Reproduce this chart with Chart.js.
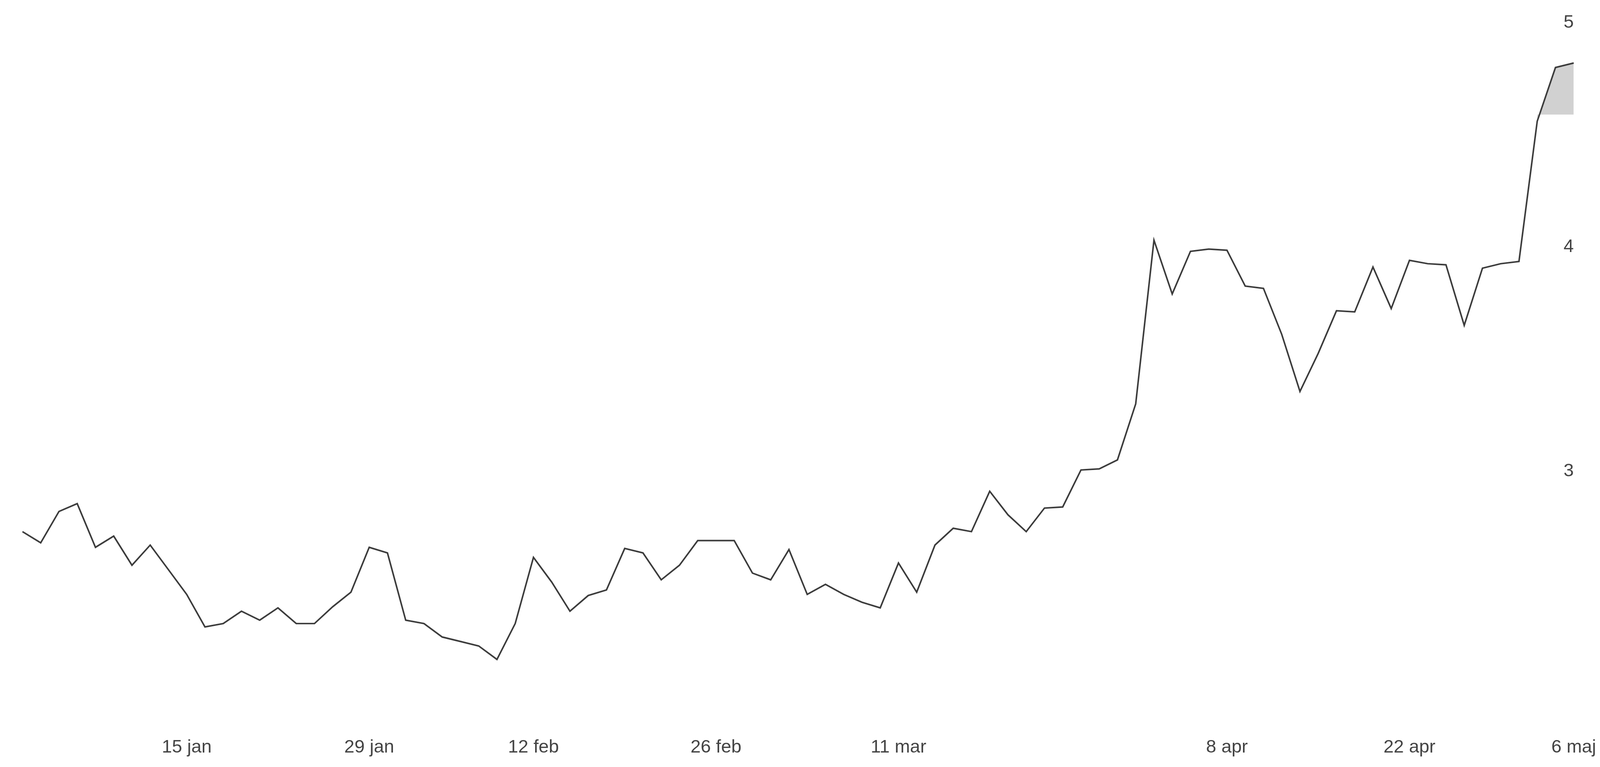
<!DOCTYPE html>
<html>
<head>
<meta charset="utf-8">
<title>Kurs</title>
<script src="https://cdn.jsdelivr.net/npm/chart.js@4/dist/chart.umd.min.js"></script>
<style>
  html, body { margin: 0; padding: 0; background: #fff; overflow: hidden; }
  #wrap { position: relative; width: 100vw; height: 100vh; }
</style>
</head>
<body>
<div id="wrap"><canvas id="chart"></canvas></div>
<script>
// closing price per trading day, 2 jan - 6 maj
const prices = [
  2.73, 2.68, 2.82, 2.855, 2.66, 2.71, 2.58, 2.67, 2.56, 2.45,
  2.305, 2.32, 2.375, 2.335, 2.39, 2.32, 2.32, 2.395, 2.46, 2.66,
  2.635, 2.335, 2.32, 2.26, 2.24, 2.22, 2.16, 2.32, 2.615, 2.505,
  2.375, 2.445, 2.47, 2.655, 2.635, 2.515, 2.58, 2.69, 2.69, 2.69,
  2.545, 2.515, 2.65, 2.45, 2.495, 2.45, 2.415, 2.39, 2.59, 2.46,
  2.67, 2.745, 2.73, 2.91, 2.805, 2.73, 2.835, 2.84, 3.005, 3.01,
  3.05, 3.30, 4.03, 3.79, 3.98, 3.99, 3.985, 3.825, 3.815, 3.61,
  3.355, 3.525, 3.715, 3.71, 3.91, 3.725, 3.94, 3.925, 3.92, 3.65,
  3.905, 3.925, 3.935, 4.56, 4.80, 4.82
];

// x-axis: which day index carries which date label
const tickIndex = [9, 19, 28, 38, 48, 66, 76, 85];
const tickLabels = ['15 jan', '29 jan', '12 feb', '26 feb', '11 mar', '8 apr', '22 apr', '6 maj'];

// y-axis
const yTicks = [3, 4, 5];
const yMin = 1.834;
const yMax = 5;

// shaded patch under the last days
const shadeFrom = 83;
const shadeLevel = 4.59;

const days = prices.map((_, i) => i);
const shade = prices.map((v, i) => (i >= shadeFrom ? v : null));

// sizes were measured on a 4631x1963 picture
const kx = window.innerWidth / 4631;
const ky = window.innerHeight / 1963;
const font = { family: '"Liberation Sans", Arial, sans-serif', size: 53 * kx };

new Chart(document.getElementById('chart'), {
  type: 'line',
  data: {
    labels: days,
    datasets: [
      {
        data: prices,
        borderColor: '#3c3c3c',
        borderWidth: 4.5 * kx,
        pointRadius: 0,
        tension: 0,
        fill: false
      },
      {
        data: shade,
        borderWidth: 0,
        borderColor: 'rgba(0,0,0,0)',
        backgroundColor: 'rgba(0,0,0,0.18)',
        pointRadius: 0,
        fill: { value: shadeLevel }
      }
    ]
  },
  options: {
    responsive: true,
    maintainAspectRatio: false,
    animation: false,
    layout: { padding: { left: 65 * kx, right: 56 * kx, top: 58 * ky, bottom: 12 * ky } },
    plugins: {
      legend: { display: false },
      tooltip: { enabled: false }
    },
    scales: {
      x: {
        grid: { display: false, drawTicks: false },
        border: { display: false },
        ticks: {
          autoSkip: false,
          maxRotation: 0,
          padding: 10 * ky,
          color: '#444',
          font: font,
          callback: (val) => {
            const i = tickIndex.indexOf(val);
            return i >= 0 ? tickLabels[i] : null;
          }
        }
      },
      y: {
        position: 'right',
        min: yMin,
        max: yMax,
        grid: { display: false, drawTicks: false },
        border: { display: false },
        afterBuildTicks: (scale) => { scale.ticks = yTicks.map(v => ({ value: v })); },
        ticks: {
          mirror: true,
          padding: 0,
          color: '#444',
          font: font
        }
      }
    }
  }
});
</script>
</body>
</html>
